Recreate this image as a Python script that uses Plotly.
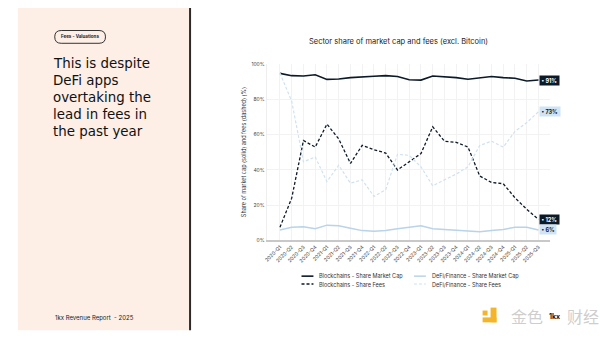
import plotly.graph_objects as go

W, H = 600, 344

quarters = [f"{y}-Q{q}" for y in range(2020, 2026) for q in range(1, 5)][:23]

bc_mcap = [94.8, 93.5, 93.3, 94.0, 91.4, 91.6, 92.4, 93.0, 93.2, 93.5, 93.0, 91.2,
           91.0, 93.3, 93.0, 92.4, 91.5, 92.4, 93.0, 92.4, 92.0, 90.5, 91.0]
defi_mcap = [6.0, 7.5, 7.8, 6.7, 8.7, 8.4, 7.0, 5.6, 5.3, 5.6, 6.7, 7.5,
             8.4, 6.7, 6.3, 6.0, 5.4, 5.0, 5.6, 6.3, 7.5, 7.5, 6.0]
bc_fees = [7.5, 24.0, 56.7, 53.0, 66.0, 57.6, 43.7, 54.0, 51.5, 49.6, 40.0, 44.6,
           49.3, 64.5, 56.3, 55.7, 53.0, 36.6, 32.9, 32.2, 24.2, 17.7, 12.0]
defi_fees = [95.0, 79.0, 44.6, 47.4, 33.4, 42.7, 32.5, 34.4, 25.0, 28.8, 48.9, 48.3,
             41.8, 31.0, 34.4, 37.7, 41.8, 53.9, 56.3, 53.0, 61.9, 66.9, 73.0]

y_ticks = [0, 20, 40, 60, 80, 100]
y_tick_labels = [f"{v}%" for v in y_ticks]

series_names = ["Blockchains - Share Market Cap", "DeFi/Finance - Share Market Cap",
                "Blockchains - Share Fees", "DeFi/Finance - Share Fees"]

DARK = "#0c1a28"
LBLUE = "#b9d3e8"
LBLUE_D = "#cfe2f0"
PILL_L = "#cfe4f6"
FONT = "Inter"
DASH = "3px,2px"


def px(x):
    return x / W


def py(y):
    return 1 - y / H


fig = go.Figure()
styles = [
    (bc_mcap, dict(color=DARK, width=1.6, dash="solid")),
    (defi_mcap, dict(color=LBLUE, width=1.5, dash="solid")),
    (bc_fees, dict(color=DARK, width=1.3, dash=DASH)),
    (defi_fees, dict(color=LBLUE_D, width=1.2, dash=DASH)),
]
for (vals, ln), name in zip(styles, series_names):
    fig.add_trace(go.Scatter(x=quarters, y=vals, mode="lines", name=name,
                             line=ln, showlegend=False, hoverinfo="skip"))

shapes = []
annotations = []

shapes.append(dict(type="rect", xref="paper", yref="paper", x0=px(15), x1=px(187),
                   y0=py(333), y1=py(5), fillcolor="#fdeee6", line=dict(width=0), layer="below"))
shapes.append(dict(type="line", xref="paper", yref="paper", x0=px(188), x1=px(188),
                   y0=py(333), y1=py(5), line=dict(color="#2a2a2a", width=2)))


def rounded(x0, y0, x1, y1, r):
    pts = [
        f"M {px(x0 + r)} {py(y0)}",
        f"L {px(x1 - r)} {py(y0)}",
        f"Q {px(x1)} {py(y0)} {px(x1)} {py(y0 + r)}",
        f"L {px(x1)} {py(y1 - r)}",
        f"Q {px(x1)} {py(y1)} {px(x1 - r)} {py(y1)}",
        f"L {px(x0 + r)} {py(y1)}",
        f"Q {px(x0)} {py(y1)} {px(x0)} {py(y1 - r)}",
        f"L {px(x0)} {py(y0 + r)}",
        f"Q {px(x0)} {py(y0)} {px(x0 + r)} {py(y0)}",
        "Z",
    ]
    return " ".join(pts)


shapes.append(dict(type="path", xref="paper", yref="paper", path=rounded(52, 28, 103, 41, 6.5),
                   line=dict(color="#333333", width=1), fillcolor="rgba(0,0,0,0)"))
annotations.append(dict(text="<b>Fees - Valuations</b>", x=px(77.5), y=py(34.5), xref="paper",
                        yref="paper", showarrow=False, font=dict(family=FONT, size=4.5, color="#222"),
                        xanchor="center", yanchor="middle"))

heading = ["This is despite", "DeFi apps", "overtaking the", "lead in fees in", "the past year"]
for i, line in enumerate(heading):
    annotations.append(dict(text=line, x=px(48), y=py(62 + i * 17.3), xref="paper", yref="paper",
                            showarrow=False, xanchor="left", yanchor="middle",
                            font=dict(family="DejaVu Sans", size=13.4, color="#111")))

annotations.append(dict(text="1kx Revenue Report  - 2025", x=px(50), y=py(321), xref="paper",
                        yref="paper", showarrow=False, xanchor="left", yanchor="middle",
                        font=dict(family=FONT, size=6, color="#222")))

annotations.append(dict(text="Sector share of market cap and fees (excl. Bitcoin)", x=px(397), y=py(39),
                        xref="paper", yref="paper", showarrow=False, xanchor="center", yanchor="middle",
                        font=dict(family=FONT, size=7.5, color="#222")))
annotations.append(dict(text="Share of market cap (solid) and fees (dashed) (%)", x=px(243), y=py(152),
                        xref="paper", yref="paper", showarrow=False, textangle=-90,
                        xanchor="center", yanchor="middle",
                        font=dict(family=FONT, size=5.5, color="#333")))

end_specs = [
    (bc_mcap, DARK, "white"),
    (defi_fees, PILL_L, DARK),
    (bc_fees, DARK, "white"),
    (defi_mcap, PILL_L, DARK),
]
for vals, bg, fc in end_specs:
    annotations.append(dict(x=quarters[-1], y=vals[-1], xref="x", yref="y",
                            text=f"<b>• {vals[-1]:.0f}%</b>", showarrow=False,
                            xanchor="left", yanchor="middle", xshift=1,
                            bgcolor=bg, borderpad=1.5,
                            font=dict(family=FONT, size=5.5, color=fc)))

leg = [
    (300, 278, DARK, "solid", 1.6, series_names[0]),
    (413, 278, LBLUE, "solid", 1.5, series_names[1]),
    (300, 286, DARK, DASH, 1.3, series_names[2]),
    (413, 286, LBLUE_D, DASH, 1.2, series_names[3]),
]
for x0, y0, c, d, w, name in leg:
    shapes.append(dict(type="line", xref="paper", yref="paper", x0=px(x0), x1=px(x0 + 12),
                       y0=py(y0), y1=py(y0), line=dict(color=c, width=w, dash=d)))
    annotations.append(dict(text=name, x=px(x0 + 16), y=py(y0), xref="paper", yref="paper",
                            showarrow=False, xanchor="left", yanchor="middle",
                            font=dict(family=FONT, size=5.5, color="#333")))

# watermark
shapes.append(dict(type="rect", xref="paper", yref="paper", x0=px(490), x1=px(496), y0=py(325),
                   y1=py(310), fillcolor="#f5b52b", line=dict(width=0)))
shapes.append(dict(type="rect", xref="paper", yref="paper", x0=px(482), x1=px(496), y0=py(325),
                   y1=py(320), fillcolor="#f5b52b", line=dict(width=0)))
shapes.append(dict(type="rect", xref="paper", yref="paper", x0=px(482), x1=px(487), y0=py(318),
                   y1=py(313), fillcolor="#f5b52b", line=dict(width=0)))
wm_font = dict(family="Noto Sans CJK SC", size=16, color="rgba(200,200,200,0.9)")
annotations.append(dict(text="金色", x=px(527), y=py(319), xref="paper", yref="paper",
                        showarrow=False, xanchor="center", yanchor="middle", font=wm_font))
annotations.append(dict(text="财经", x=px(565), y=py(319), xref="paper", yref="paper",
                        showarrow=False, xanchor="left", yanchor="middle", font=wm_font))
annotations.append(dict(text="<b>1kx</b>", x=px(554), y=py(319), xref="paper", yref="paper",
                        showarrow=False, xanchor="center", yanchor="middle",
                        font=dict(family=FONT, size=7, color="#111")))

fig.update_layout(
    width=W, height=H, margin=dict(l=0, r=0, t=0, b=0),
    paper_bgcolor="white", plot_bgcolor="white",
    shapes=shapes, annotations=annotations,
    font=dict(family=FONT),
    xaxis=dict(domain=[px(265), px(550)], type="category", range=[-1.13, 23.0],
               showgrid=True, gridcolor="#f2f2f2", gridwidth=1,
               showline=True, linecolor="#c8c8c8", linewidth=1.5,
               tickangle=-45, tickfont=dict(size=5, color="#444"), ticks="",
               zeroline=False, fixedrange=True),
    yaxis=dict(domain=[1 - 241.7 / H, 1 - 62.3 / H], range=[0, 100],
               tickmode="array", tickvals=y_ticks, ticktext=y_tick_labels,
               showgrid=True, gridcolor="#f2f2f2", gridwidth=1,
               showline=True, linecolor="#eeeeee", linewidth=1,
               tickfont=dict(size=5, color="#444"), zeroline=False, fixedrange=True),
)

fig.write_html("out.html")
